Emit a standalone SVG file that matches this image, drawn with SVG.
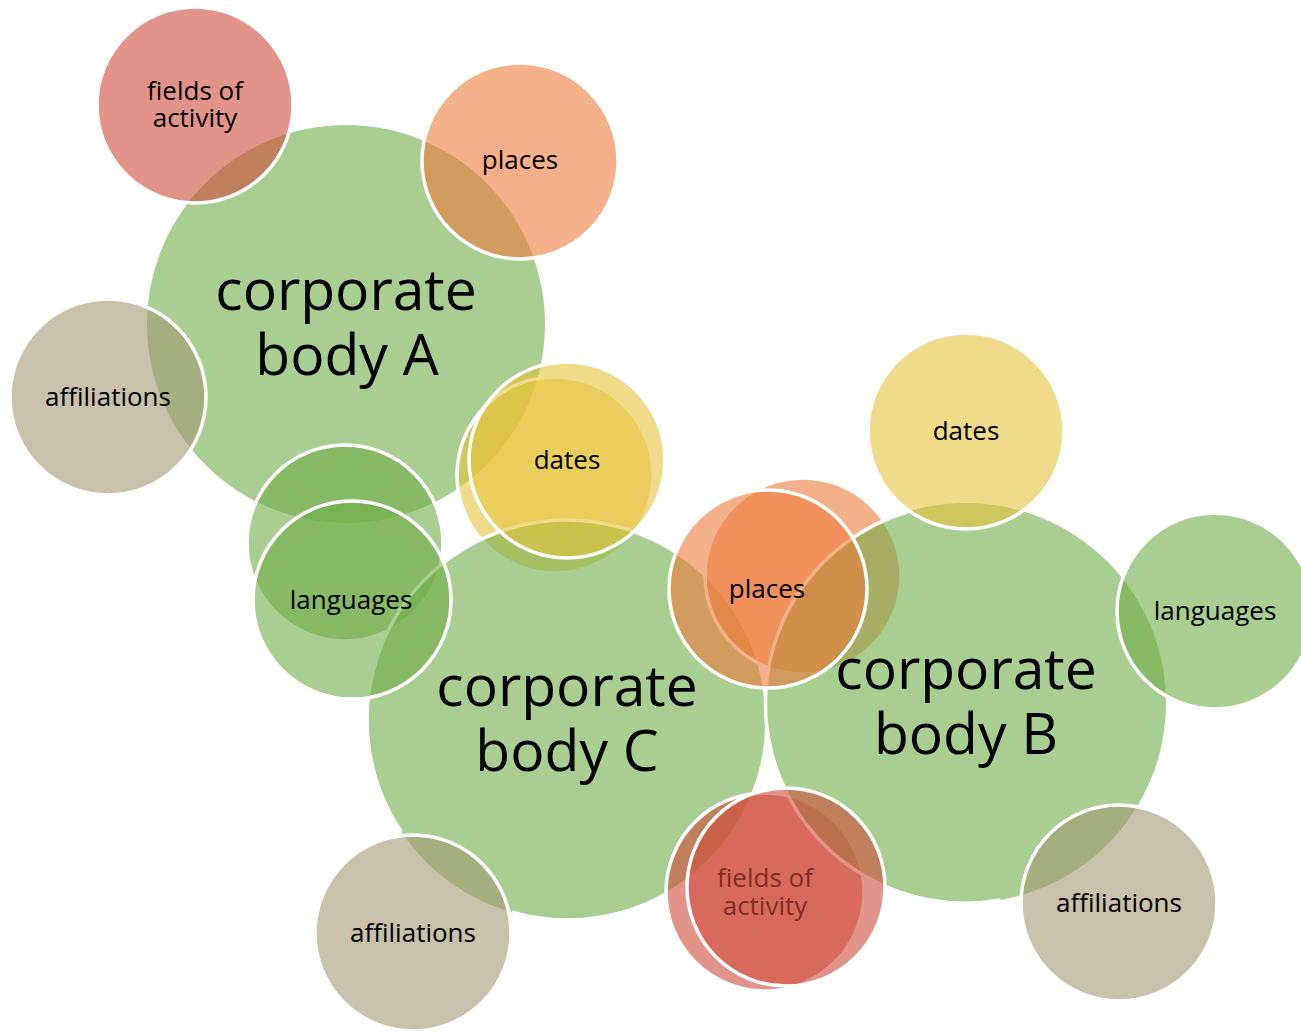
<svg xmlns="http://www.w3.org/2000/svg" width="1301" height="1032" viewBox="0 0 1301 1032">
<style>
.s{stroke:#fff;stroke-width:3.5;fill-opacity:0.6}
.b{stroke:none;fill-opacity:0.6}
.ring{fill:none;stroke:#fff;stroke-width:3.5}
.g{fill:#70AD47}
.r{fill:#D04D3C}
.o{fill:#EC7C3A}
.y{fill:#E6C33C}
.k{fill:#A39971}
.t{font-family:"Open Sans","DejaVu Sans",sans-serif;font-size:26px;text-anchor:middle;fill:#000}
.tb{font-size:57px}
</style>
<rect width="1301" height="1032" fill="#fff"/>
<g id="connectors"/>
<g id="bodyA"><circle class="b g" cx="346" cy="324" r="199"/><text class="t tb" x="346" y="310">corporate<tspan x="347" dy="65">body A</tspan></text></g>
<g id="A-fields"><circle class="s r" cx="195" cy="105" r="98"/><text class="t" x="195" y="100">fields of<tspan x="195" dy="27">activity</tspan></text></g>
<g id="A-places"><circle class="s o" cx="520" cy="161" r="98"/><text class="t" x="520" y="169">places</text></g>
<g id="A-affiliations"><circle class="s k" cx="108" cy="397" r="98"/><text class="t" x="108" y="406">affiliations</text></g>
<g id="A-dates"><circle class="s y" cx="555" cy="475" r="98"/></g>
<g id="A-languages"><circle class="s g" cx="345" cy="543" r="98"/></g>
<g id="bodyC"><circle class="b g" cx="567" cy="720" r="200"/><path class="ring" d="M 401.2 831.8 A 200 200 0 1 1 511.9 912.3"/><text class="t tb" x="567" y="706">corporate<tspan x="567" dy="65">body C</tspan></text></g>
<g id="C-dates"><circle class="s y" cx="567" cy="460" r="98"/><text class="t" x="567" y="469">dates</text></g>
<g id="C-languages"><circle class="s g" cx="352" cy="600" r="99"/><text class="t" x="351" y="609">languages</text></g>
<g id="C-affiliations"><circle class="s k" cx="413" cy="933" r="98"/><text class="t" x="413" y="942">affiliations</text></g>
<g id="C-fields"><circle class="s r" cx="765" cy="892" r="99"/><text class="t" x="765" y="887">fields of<tspan x="765" dy="28">activity</tspan></text></g>
<g id="B-places"><circle class="s o" cx="803" cy="576" r="98"/></g>
<g id="bodyB"><circle class="b g" cx="966" cy="703" r="200"/><path class="ring" d="M 909.9 511 A 200 200 0 0 0 1000.7 900"/><text class="t tb" x="966" y="689">corporate<tspan x="966" dy="65">body B</tspan></text></g>
<g id="B-dates"><circle class="s y" cx="966" cy="431" r="98"/><text class="t" x="966" y="440">dates</text></g>
<g id="B-languages"><circle class="s g" cx="1215" cy="611" r="98"/><text class="t" x="1215" y="620">languages</text></g>
<g id="B-affiliations"><circle class="s k" cx="1119" cy="903" r="98"/><text class="t" x="1119" y="912">affiliations</text></g>
<g id="B-fields"><circle class="s r" cx="786" cy="887" r="99"/></g>
<g id="C-places"><circle class="s o" cx="768" cy="589" r="99"/><text class="t" x="767" y="598">places</text></g>
</svg>
